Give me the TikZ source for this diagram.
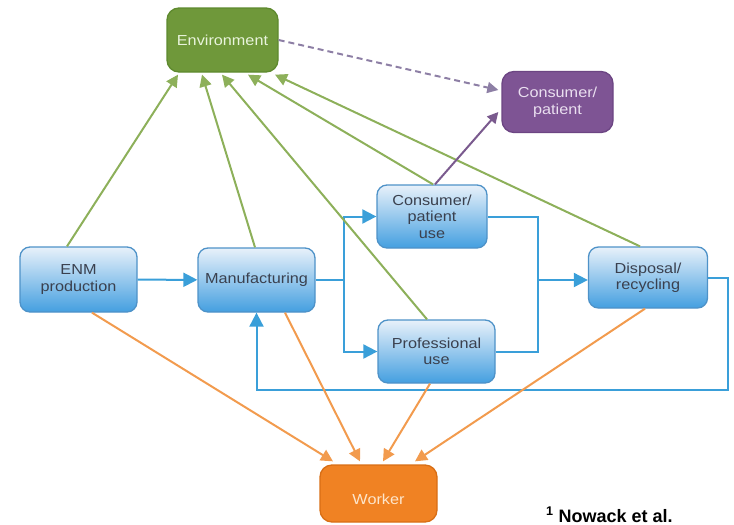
\documentclass[tikz,border=0pt]{standalone}
\usepackage{fontspec}
\setmainfont{Liberation Sans}
\newfontfamily\boxfont[FakeStretch=1.12]{Liberation Sans}
\usetikzlibrary{arrows.meta,calc}
\definecolor{envfill}{HTML}{6F983A}
\definecolor{envedge}{HTML}{5E8A2E}
\definecolor{envtext}{HTML}{E9F4DC}
\definecolor{gline}{HTML}{8DB05A}
\definecolor{purfill}{HTML}{7E5494}
\definecolor{puredge}{HTML}{6C4583}
\definecolor{purtext}{HTML}{EADFF0}
\definecolor{pline}{HTML}{7A5A8E}
\definecolor{pdash}{HTML}{8D7FA5}
\definecolor{orfill}{HTML}{F08223}
\definecolor{oredge}{HTML}{D86E15}
\definecolor{ortext}{HTML}{FDE6CC}
\definecolor{oline}{HTML}{F29B4E}
\definecolor{btop}{HTML}{E8F1FA}
\definecolor{bbot}{HTML}{449FE0}
\definecolor{bedge}{HTML}{4E92C8}
\definecolor{btext}{HTML}{3A404E}
\definecolor{bline}{HTML}{3A9FD9}
\begin{document}
\begin{tikzpicture}[x=1pt,y=-1pt,
  box/.style={rounded corners=10pt, inner sep=0pt, align=center,
    font=\boxfont\fontsize{14.5}{16.5}\selectfont, line width=1.3pt},
  bluebox/.style={box, draw=bedge, top color=btop, bottom color=bbot, text=btext},
  envbox/.style={box, rounded corners=12pt, draw=envedge, fill=envfill, text=envtext},
  purbox/.style={box, rounded corners=12pt, draw=puredge, fill=purfill, text=purtext},
  orbox/.style={box, rounded corners=12pt, draw=oredge, fill=orfill, text=ortext},
  bflow/.style={draw=bline, line width=2pt},
  barrow/.style={bflow, -{Triangle[length=14pt,width=14pt]}},
  garrow/.style={draw=gline, line width=2pt, -{Triangle[length=12pt,width=12pt]}},
  oarrow/.style={draw=oline, line width=2pt, -{Triangle[length=12pt,width=12pt]}},
  parrow/.style={draw=pline, line width=2pt, -{Triangle[length=11pt,width=11pt]}},
  pdarrow/.style={draw=pdash, line width=2pt, dash pattern=on 6pt off 4pt, -{Triangle[length=11pt,width=11pt]}}
]
\useasboundingbox (0,0) rectangle (734,525);

% nodes
\node[envbox, minimum width=111pt, minimum height=64pt] (env) at (222.5,40) {Environment};
\node[purbox, minimum width=111pt, minimum height=61pt] (cp) at (557.5,102) {Consumer/\\patient};
\node[bluebox, minimum width=117pt, minimum height=65pt] (enm) at (78.5,279.5) {ENM\\production};
\node[bluebox, minimum width=117pt, minimum height=64pt] (manu) at (256.5,280) {Manufacturing};
\node[bluebox, minimum width=110pt, minimum height=63pt] (cons) at (432,216.5) {Consumer/\\patient\\use};
\node[bluebox, minimum width=117pt, minimum height=63pt] (prof) at (436.5,351.5) {Professional\\use};
\node[bluebox, minimum width=119pt, minimum height=61pt] (disp) at (648,277.5) {Disposal/\\recycling};
\node[orbox, minimum width=117pt, minimum height=57pt] (worker) at (378.5,493.5) {\raisebox{-6pt}[\height][\depth]{Worker}};
\node[anchor=base west, inner sep=0pt, font=\bfseries\fontsize{18}{18}\selectfont] (ref) at (546,522) {\textsuperscript{1}\ Nowack et al.};

% coordinates for the blue flow
\coordinate (s1) at (344,280);
\coordinate (s2) at (538,280);
\coordinate (r1) at (728,390);

% blue flow
\draw[barrow] (enm) -- (manu);
\draw[bflow] (manu.east) -- (s1);
\draw[barrow] (s1) |- (cons.west);
\draw[barrow] (s1) |- (prof.west);
\draw[bflow] (cons.east) -| (s2);
\draw[bflow] (prof.east) -| (s2);
\draw[barrow] (s2) -- (s2 -| disp.west);
\draw[barrow] (disp.east) -| (r1) -| (manu.south);

% green to environment
\draw[garrow] ([xshift=-11.5pt]enm.north) -- ([xshift=-44.5pt,yshift=-2pt]env.south);
\draw[garrow] ([xshift=-1.5pt]manu.north) -- ([xshift=-20.5pt,yshift=-2pt]env.south);
\draw[garrow] ([xshift=-9.5pt]prof.north) -- ([xshift=-0.5pt,yshift=-2pt]env.south);
\draw[garrow] ([xshift=1pt]cons.north) -- ([xshift=25.5pt,yshift=-2pt]env.south);
\draw[garrow] ([xshift=-8pt]disp.north) -- ([xshift=52.5pt,yshift=-2pt]env.south);

% purple
\draw[parrow] ([xshift=3pt]cons.north) -- ([xshift=-3pt,yshift=-10pt]cp.west);
\draw[pdarrow] (env.east) -- ([xshift=-3pt,yshift=12pt]cp.west);

% orange to worker
\draw[oarrow] ([xshift=13.5pt]enm.south) -- ([xshift=-45.5pt,yshift=3pt]worker.north);
\draw[oarrow] ([xshift=28.5pt]manu.south) -- ([xshift=-18.5pt,yshift=3pt]worker.north);
\draw[oarrow] ([xshift=-6.5pt]prof.south) -- ([xshift=4.5pt,yshift=3pt]worker.north);
\draw[oarrow] ([xshift=-3pt]disp.south) -- ([xshift=36.5pt,yshift=3pt]worker.north);
\end{tikzpicture}
\end{document}
